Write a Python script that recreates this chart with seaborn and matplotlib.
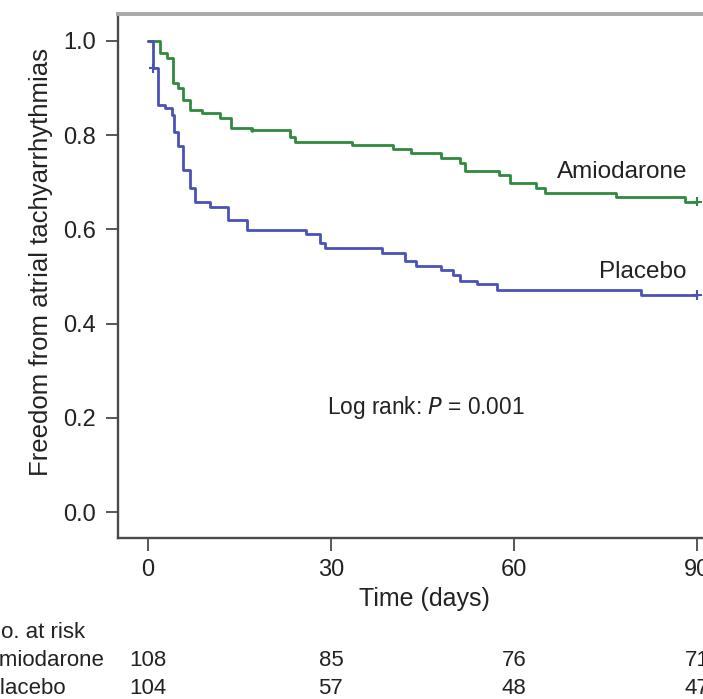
import numpy as np
import pandas as pd
import matplotlib
matplotlib.use("Agg")
import matplotlib.pyplot as plt
import seaborn as sns

# ---- data ----
amio_t = [0, 2.0, 3.1, 4.1, 5.0, 5.8, 6.9, 8.8, 11.8, 13.7, 17.0, 23.3, 24.1,
          33.4, 40.2, 43.2, 48.1, 51.1, 52.0, 57.6, 59.3, 63.6, 65.1, 76.8, 88.0, 90.0]
amio_s = [1.0, 0.974, 0.963, 0.910, 0.899, 0.875, 0.853, 0.846, 0.836, 0.815, 0.811, 0.797, 0.786,
          0.779, 0.770, 0.763, 0.751, 0.740, 0.723, 0.716, 0.699, 0.687, 0.678, 0.668, 0.659, 0.659]
plac_t = [0, 0.9, 1.7, 2.8, 3.9, 4.2, 5.0, 5.8, 6.9, 7.7, 10.2, 13.2, 16.2, 26.0, 28.2, 29.0,
          38.3, 42.1, 44.0, 48.1, 50.0, 51.1, 54.0, 57.2, 80.9, 90.0]
plac_s = [1.0, 0.942, 0.864, 0.857, 0.843, 0.807, 0.776, 0.726, 0.687, 0.659, 0.648, 0.620, 0.599,
          0.590, 0.571, 0.560, 0.550, 0.532, 0.522, 0.513, 0.504, 0.491, 0.484, 0.472, 0.461, 0.461]
groups = ["Amiodarone", "Placebo"]
censor_t = [90.0, 90.0, 0.9]
censor_s = [0.659, 0.461, 0.942]
censor_g = ["Amiodarone", "Placebo", "Placebo"]
dot_t = [17.0]
dot_s = [0.811]
dot_g = ["Amiodarone"]
risk_times = [0, 30, 60, 90]
risk_amio = [108, 85, 76, 71]
risk_plac = [104, 57, 48, 47]
xticks = [0, 30, 60, 90]
yticks = [0.0, 0.2, 0.4, 0.6, 0.8, 1.0]

df = pd.concat([
    pd.DataFrame({"t": amio_t, "s": amio_s, "group": groups[0]}),
    pd.DataFrame({"t": plac_t, "s": plac_s, "group": groups[1]}),
], ignore_index=True)
cens = pd.DataFrame({"t": censor_t, "s": censor_s, "group": censor_g})
dots = pd.DataFrame({"t": dot_t, "s": dot_s, "group": dot_g})

sns.set_style("white")
plt.rcParams["font.family"] = ["Liberation Sans", "DejaVu Sans"]

palette = {"Amiodarone": "#2f8a3e", "Placebo": "#4a52b8"}
txt = "#222222"

W, H = 703, 699
fig = plt.figure(figsize=(W / 100, H / 100), dpi=100)
ax_l, ax_r, ax_t, ax_b = 118, 703, 14, 538
ax = fig.add_axes([ax_l / W, 1 - ax_b / H, (ax_r - ax_l) / W, (ax_b - ax_t) / H])

sns.lineplot(data=df, x="t", y="s", hue="group", palette=palette,
             drawstyle="steps-post", estimator=None, legend=False,
             linewidth=2.0, ax=ax)
sns.scatterplot(data=cens, x="t", y="s", hue="group", palette=palette,
                marker="+", s=45, linewidth=1.5, legend=False, ax=ax, zorder=3)
sns.scatterplot(data=dots, x="t", y="s", hue="group", palette=palette,
                marker="o", s=10, linewidth=0, legend=False, ax=ax, zorder=3)

ax.set_xlim(-4.9, 91.0)
ax.set_ylim(-0.055, 1.057)
ax.set_xticks(xticks)
ax.set_xticklabels([str(v) for v in xticks])
ax.set_yticks(yticks)
ax.set_yticklabels([f"{v:.1f}" for v in yticks])

for side in ["left", "bottom"]:
    ax.spines[side].set_color("#4a4a4a")
    ax.spines[side].set_linewidth(1.7)
ax.spines["top"].set_color("#a8a8a8")
ax.spines["top"].set_linewidth(2.8)
ax.spines["right"].set_visible(False)

ax.tick_params(axis="both", direction="out", length=9, width=1.3, color="#4a4a4a",
               labelsize=17, labelcolor=txt, bottom=True, left=True)
ax.tick_params(axis="x", pad=6)
ax.tick_params(axis="y", pad=7)

ax.set_xlabel("Time (days)", fontsize=18, color=txt)
ax.set_ylabel("Freedom from atrial tachyarrhythmias", fontsize=18.5, color=txt)
ax.xaxis.set_label_coords((424 - ax_l) / (ax_r - ax_l), (ax_b - 587) / (ax_b - ax_t))
ax.yaxis.set_label_coords((53 - ax_l) / (ax_r - ax_l), (ax_b - 262) / (ax_b - ax_t))

ax.text(88.5, 0.722, "Amiodarone", ha="right", va="center", fontsize=17.5, color=txt)
ax.text(88.3, 0.510, "Placebo", ha="right", va="center", fontsize=17.5, color=txt)
ax.text(29.3, 0.221, r"Log rank: $\it{P}$ = 0.001", ha="left", va="center",
        fontsize=16.3, color=txt)

# number at risk table
def ypos(py):
    return (ax_b - py) / (ax_b - ax_t)

trans = ax.get_xaxis_transform()
for t, a, p in zip(risk_times, risk_amio, risk_plac):
    ax.text(t, ypos(660), str(a), ha="center", va="center", fontsize=16, color=txt,
            transform=trans, clip_on=False)
    ax.text(t, ypos(688), str(p), ha="center", va="center", fontsize=16, color=txt,
            transform=trans, clip_on=False)

lx = -15 / W
fig.text(lx, 1 - 633 / H, "No. at risk", ha="left", va="center", fontsize=16, color=txt)
fig.text(lx, 1 - 660 / H, "Amiodarone", ha="left", va="center", fontsize=16, color=txt)
fig.text(lx, 1 - 688 / H, "Placebo", ha="left", va="center", fontsize=16, color=txt)

fig.savefig("out.png", dpi=100)
